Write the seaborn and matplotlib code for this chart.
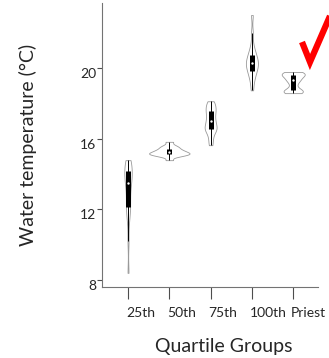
import numpy as np
import pandas as pd
import matplotlib
matplotlib.use("Agg")
import matplotlib.pyplot as plt
import matplotlib.transforms as mtransforms
import seaborn as sns
from matplotlib.lines import Line2D

# groups on the x axis
groups = ["25th", "50th", "75th", "100th", "Priest"]

# water temperature readings (°C) per group
temp_25th = [8.4, 10.2, 11.3, 11.8, 12.0, 12.2, 12.5, 12.8, 13.1, 13.45,
             13.55, 13.7, 13.85, 14.0, 14.15, 14.3, 14.45, 14.6, 14.7, 14.79]
temp_50th = [14.79, 14.98, 15.04, 15.08, 15.12, 15.15, 15.17, 15.20, 15.24,
             15.28, 15.32, 15.37, 15.42, 15.50, 15.55, 15.65, 15.83]
temp_75th = [15.64, 15.95, 16.25, 16.45, 16.55, 16.6, 16.7, 16.85, 17.0,
             17.1, 17.3, 17.45, 17.6, 17.7, 17.85, 18.0, 18.13]
temp_100th = [18.75, 19.2, 19.5, 19.7, 19.8, 19.95, 20.1, 20.2, 20.25, 20.3,
              20.45, 20.55, 20.7, 20.8, 21.0, 21.3, 22.0, 23.02]
temp_priest = [18.59, 18.63, 18.68, 18.75, 18.85, 19.1, 19.3, 19.35, 19.5,
               19.58, 19.64, 19.7, 19.75, 19.79]

muestras = [temp_25th, temp_50th, temp_75th, temp_100th, temp_priest]
y_ticks = [8, 12, 16, 20]

df = pd.DataFrame({
    "grupo": np.repeat(groups, [len(m) for m in muestras]),
    "temp": np.concatenate(muestras),
})

sns.set_style("white")
plt.rcParams["font.family"] = ["Lato", "DejaVu Sans"]

fig = plt.figure(figsize=(3.29, 3.58), dpi=100)
ax = fig.add_axes([102 / 329, 1 - 287 / 358, 216 / 329, 284 / 358])

sns.violinplot(data=df, x="grupo", y="temp", order=groups, color="white",
               linecolor="0.6", linewidth=0.6, inner=None, cut=0,
               density_norm="area", width=0.98, bw_adjust=0.55,
               saturation=1, ax=ax)

# caixa interna: whisker fino, caixa preta, mediana branca
for i, vals in enumerate(muestras):
    vals = np.array(vals)
    q1, med, q3 = np.percentile(vals, [25, 50, 75])
    iqr = q3 - q1
    lo = vals[vals >= q1 - 1.5 * iqr].min()
    hi = vals[vals <= q3 + 1.5 * iqr].max()
    ax.plot([i, i], [lo, hi], color="black", lw=0.7, solid_capstyle="butt")
    ax.plot([i, i], [q1, q3], color="black", lw=3.6, solid_capstyle="butt")
    ax.scatter([i], [med], s=3, color="white", zorder=5, linewidths=0)

ax.set_xlim(-0.63, 4.6)
ax.set_ylim(7.6, 23.7)
ax.set_yticks(y_ticks)
ax.set_xticks(range(len(groups)))
ax.set_xticklabels(groups)

for s in ["top", "right"]:
    ax.spines[s].set_visible(False)
for s in ["left", "bottom"]:
    ax.spines[s].set_color("0.45")
    ax.spines[s].set_linewidth(0.8)

ax.tick_params(axis="y", left=True, length=3.8, width=0.8, color="0.3",
               pad=0.5, labelsize=10)
ax.tick_params(axis="x", bottom=True, length=8.6, width=0.8, color="0.3",
               pad=6, labelsize=10)

# rótulos do eixo y pendurados abaixo do tick, rótulos x alinhados à esquerda
for lab in ax.get_yticklabels():
    lab.set_va("top")
shift = mtransforms.ScaledTranslation(-2 / 100, 0, fig.dpi_scale_trans)
for lab in ax.get_xticklabels():
    lab.set_ha("left")
    lab.set_transform(lab.get_transform() + shift)

ax.set_ylabel("Water temperature (°C)", fontsize=14)
ax.set_xlabel("Quartile Groups", fontsize=14, va="top")
ax.yaxis.set_label_coords(-0.30, 0.5)
ax.xaxis.set_label_coords(0.565, -0.18)

# visto vermelho no canto
check = Line2D([302 / 329, 310 / 329, 330 / 329],
               [1 - 42 / 358, 1 - 62 / 358, 1 - 16 / 358],
               transform=fig.transFigure, color="red", lw=4.5,
               solid_joinstyle="miter", solid_capstyle="butt")
fig.add_artist(check)

fig.savefig("out.png", dpi=100)
